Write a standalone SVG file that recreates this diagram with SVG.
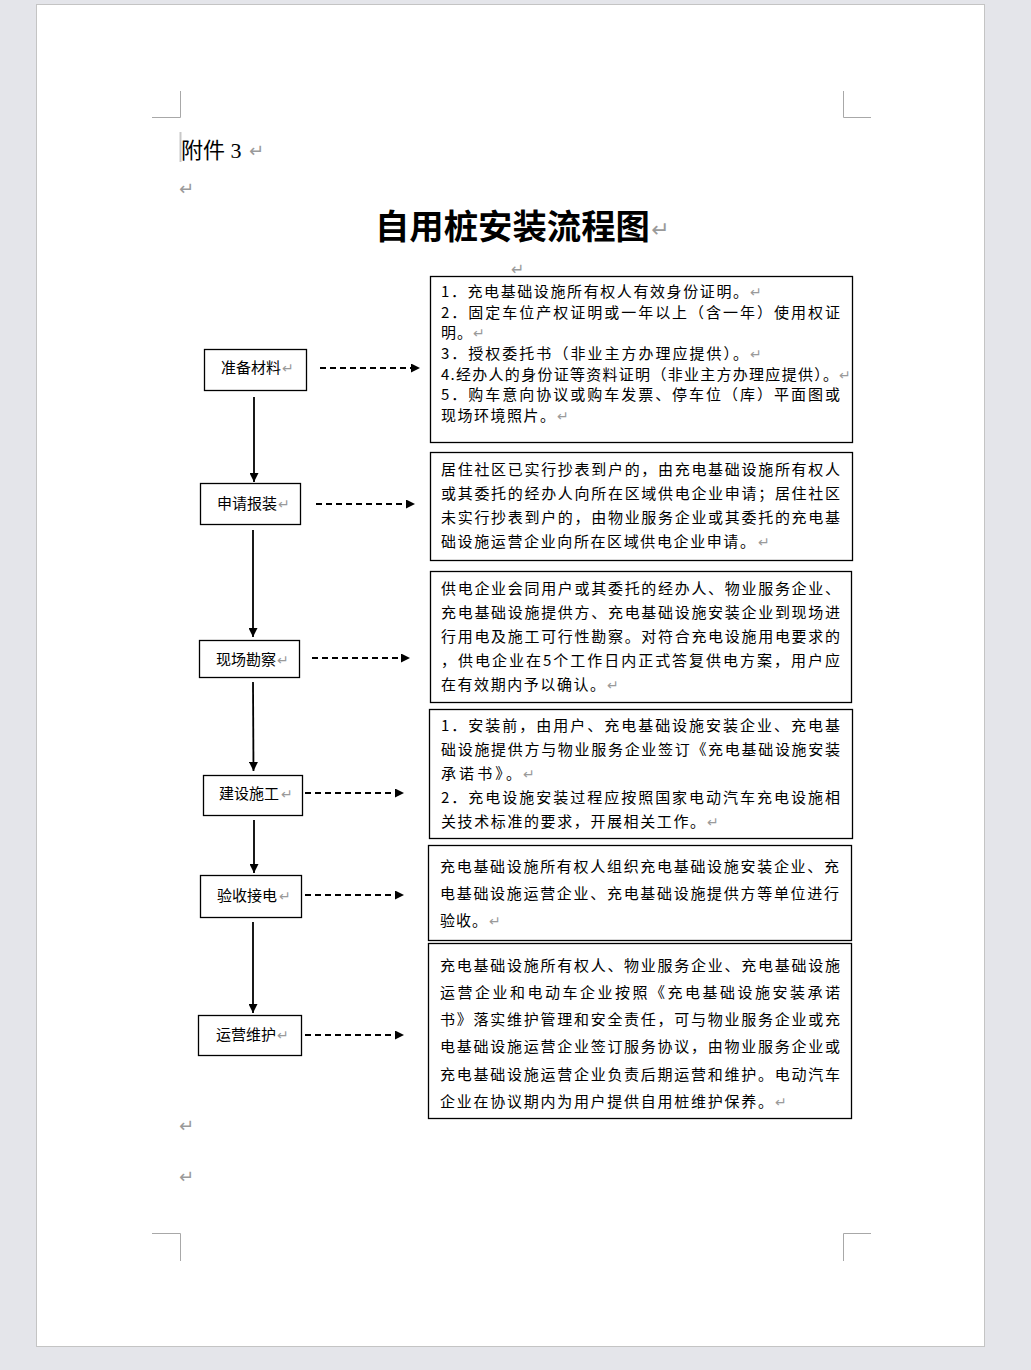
<svg xmlns="http://www.w3.org/2000/svg" width="1031" height="1370" viewBox="0 0 1031 1370">
<defs>
<style>
.t{font-family:"Noto Sans CJK SC","Noto Sans",sans-serif;font-size:15px;fill:#000}
.m{font-family:"DejaVu Sans",sans-serif;font-size:14px;fill:#9a9a9a}
.box{fill:#fff;stroke:#000;stroke-width:1.3}
.crop{fill:none;stroke:#a8a8a8;stroke-width:1}
.v{stroke:#000;stroke-width:1.8;fill:none}
.d{stroke:#000;stroke-width:1.8;stroke-dasharray:6 4;fill:none}
</style>
<marker id="ah" viewBox="0 0 10 10" refX="10" refY="5" markerWidth="9" markerHeight="9" markerUnits="userSpaceOnUse" orient="auto">
<path d="M0,0 L10,5 L0,10 z" fill="#000"/>
</marker>
</defs>
<rect x="0" y="0" width="1031" height="1370" fill="#e4e5ea"/>
<rect x="36.5" y="4.5" width="948" height="1342" fill="#fff" stroke="#c4c4c4" stroke-width="1"/>
<g id="cropmarks">
<path class="crop" d="M152,117.5 H180.5 V91 M871,117.5 H843.5 V91 M152,1233.5 H180.5 V1261 M871,1233.5 H843.5 V1261"/>
</g>
<g id="header">
<line x1="180.5" y1="132" x2="180.5" y2="162" stroke="#c8c8c8" stroke-width="2"/>
<text x="181" y="158" style="font-family:'Liberation Serif','Noto Sans CJK SC',serif;font-size:22px;fill:#000">附件 3</text>
<text x="249" y="157" class="m" style="font-size:18px">↵</text>
<text x="179" y="195" class="m" style="font-size:18px">↵</text>
<text x="375" y="239" style="font-family:'Noto Sans CJK SC',sans-serif;font-size:34px;font-weight:700;fill:#000" textLength="275" lengthAdjust="spacingAndGlyphs">自用桩安装流程图</text>
<text x="651" y="237" class="m" style="font-size:22px">↵</text>
<text x="511" y="275" class="m" style="font-size:16px">↵</text>
<text x="179" y="1132" class="m" style="font-size:18px">↵</text>
<text x="179" y="1183" class="m" style="font-size:18px">↵</text>
</g>
<g id="connectors">
<line class="v" x1="254" y1="397" x2="254" y2="482" marker-end="url(#ah)"/>
<line class="v" x1="253" y1="530" x2="253" y2="637" marker-end="url(#ah)"/>
<line class="v" x1="253" y1="682" x2="253.5" y2="771" marker-end="url(#ah)"/>
<line class="v" x1="254" y1="820" x2="254" y2="873" marker-end="url(#ah)"/>
<line class="v" x1="253" y1="922" x2="253" y2="1013" marker-end="url(#ah)"/>
<line class="d" x1="320" y1="368" x2="420" y2="368" marker-end="url(#ah)"/>
<line class="d" x1="316" y1="504" x2="415" y2="504" marker-end="url(#ah)"/>
<line class="d" x1="312" y1="658" x2="410" y2="658" marker-end="url(#ah)"/>
<line class="d" x1="305" y1="793" x2="404" y2="793" marker-end="url(#ah)"/>
<line class="d" x1="305" y1="895" x2="404" y2="895" marker-end="url(#ah)"/>
<line class="d" x1="305" y1="1035" x2="404" y2="1035" marker-end="url(#ah)"/>
</g>
<g id="n1">
<rect class="box" x="204.5" y="349.5" width="102" height="41"/>
<text class="t" x="221" y="373">准备材料</text><text class="m" x="282" y="373">↵</text>
</g>
<g id="n2">
<rect class="box" x="200.5" y="483.5" width="100" height="41"/>
<text class="t" x="217" y="509">申请报装</text><text class="m" x="278" y="509">↵</text>
</g>
<g id="n3">
<rect class="box" x="199.5" y="640.5" width="100" height="37"/>
<text class="t" x="216" y="665">现场勘察</text><text class="m" x="277" y="665">↵</text>
</g>
<g id="n4">
<rect class="box" x="203.5" y="775.5" width="99" height="40"/>
<text class="t" x="219" y="799">建设施工</text><text class="m" x="281" y="799">↵</text>
</g>
<g id="n5">
<rect class="box" x="200.5" y="875.5" width="101" height="42"/>
<text class="t" x="217" y="901">验收接电</text><text class="m" x="279" y="901">↵</text>
</g>
<g id="n6">
<rect class="box" x="198.5" y="1015.5" width="103" height="40"/>
<text class="t" x="216" y="1040">运营维护</text><text class="m" x="277" y="1040">↵</text>
</g>
<g id="d1">
<rect class="box" x="430.5" y="276.5" width="422" height="166"/>
<text class="t" x="441" y="297" textLength="307" lengthAdjust="spacing">1．充电基础设施所有权人有效身份证明。</text><text class="m" x="750" y="297">↵</text>
<text class="t" x="441" y="318" textLength="399" lengthAdjust="spacing">2．固定车位产权证明或一年以上（含一年）使用权证</text>
<text class="t" x="441" y="338" textLength="31" lengthAdjust="spacing">明。</text><text class="m" x="473" y="338">↵</text>
<text class="t" x="441" y="359" textLength="307" lengthAdjust="spacing">3．授权委托书（非业主方办理应提供）。</text><text class="m" x="750" y="359">↵</text>
<text class="t" x="441" y="380" textLength="397" lengthAdjust="spacing">4.经办人的身份证等资料证明（非业主方办理应提供）。</text><text class="m" x="839" y="380">↵</text>
<text class="t" x="441" y="400" textLength="399" lengthAdjust="spacing">5．购车意向协议或购车发票、停车位（库）平面图或</text>
<text class="t" x="441" y="421" textLength="114" lengthAdjust="spacing">现场环境照片。</text><text class="m" x="557" y="421">↵</text>
</g>
<g id="d2">
<rect class="box" x="430.5" y="452.5" width="422" height="108"/>
<text class="t" x="441" y="475" textLength="399" lengthAdjust="spacing">居住社区已实行抄表到户的，由充电基础设施所有权人</text>
<text class="t" x="441" y="499" textLength="399" lengthAdjust="spacing">或其委托的经办人向所在区域供电企业申请；居住社区</text>
<text class="t" x="441" y="523" textLength="399" lengthAdjust="spacing">未实行抄表到户的，由物业服务企业或其委托的充电基</text>
<text class="t" x="441" y="547" textLength="314" lengthAdjust="spacing">础设施运营企业向所在区域供电企业申请。</text><text class="m" x="758" y="547">↵</text>
</g>
<g id="d3">
<rect class="box" x="430.5" y="571.5" width="421" height="131"/>
<text class="t" x="441" y="594" textLength="399" lengthAdjust="spacing">供电企业会同用户或其委托的经办人、物业服务企业、</text>
<text class="t" x="441" y="618" textLength="399" lengthAdjust="spacing">充电基础设施提供方、充电基础设施安装企业到现场进</text>
<text class="t" x="441" y="642" textLength="399" lengthAdjust="spacing">行用电及施工可行性勘察。对符合充电设施用电要求的</text>
<text class="t" x="441" y="666" textLength="399" lengthAdjust="spacing">，供电企业在5个工作日内正式答复供电方案，用户应</text>
<text class="t" x="441" y="690" textLength="164" lengthAdjust="spacing">在有效期内予以确认。</text><text class="m" x="607" y="690">↵</text>
</g>
<g id="d4">
<rect class="box" x="429.5" y="709.5" width="423" height="129"/>
<text class="t" x="441" y="731" textLength="399" lengthAdjust="spacing">1．安装前，由用户、充电基础设施安装企业、充电基</text>
<text class="t" x="441" y="755" textLength="399" lengthAdjust="spacing">础设施提供方与物业服务企业签订《充电基础设施安装</text>
<text class="t" x="441" y="779" textLength="80" lengthAdjust="spacing">承诺书》。</text><text class="m" x="523" y="779">↵</text>
<text class="t" x="441" y="803" textLength="399" lengthAdjust="spacing">2．充电设施安装过程应按照国家电动汽车充电设施相</text>
<text class="t" x="441" y="827" textLength="264" lengthAdjust="spacing">关技术标准的要求，开展相关工作。</text><text class="m" x="707" y="827">↵</text>
</g>
<g id="d5">
<rect class="box" x="428.5" y="845.5" width="423" height="95"/>
<text class="t" x="440" y="872" textLength="399" lengthAdjust="spacing">充电基础设施所有权人组织充电基础设施安装企业、充</text>
<text class="t" x="440" y="899" textLength="399" lengthAdjust="spacing">电基础设施运营企业、充电基础设施提供方等单位进行</text>
<text class="t" x="440" y="926" textLength="47" lengthAdjust="spacing">验收。</text><text class="m" x="489" y="926">↵</text>
</g>
<g id="d6">
<rect class="box" x="428.5" y="943.5" width="423" height="175"/>
<text class="t" x="440" y="971" textLength="400" lengthAdjust="spacing">充电基础设施所有权人、物业服务企业、充电基础设施</text>
<text class="t" x="440" y="998" textLength="400" lengthAdjust="spacing">运营企业和电动车企业按照《充电基础设施安装承诺</text>
<text class="t" x="440" y="1025" textLength="400" lengthAdjust="spacing">书》落实维护管理和安全责任，可与物业服务企业或充</text>
<text class="t" x="440" y="1052" textLength="400" lengthAdjust="spacing">电基础设施运营企业签订服务协议，由物业服务企业或</text>
<text class="t" x="440" y="1080" textLength="400" lengthAdjust="spacing">充电基础设施运营企业负责后期运营和维护。电动汽车</text>
<text class="t" x="440" y="1107" textLength="333" lengthAdjust="spacing">企业在协议期内为用户提供自用桩维护保养。</text><text class="m" x="775" y="1107">↵</text>
</g>
</svg>
